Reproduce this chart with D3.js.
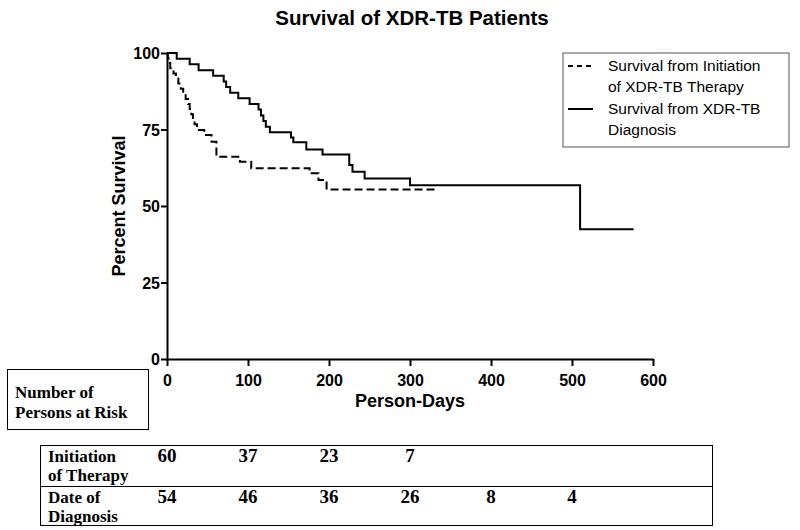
<!DOCTYPE html>
<html><head><meta charset="utf-8">
<script src="https://cdn.jsdelivr.net/npm/d3@7"></script>
<style>body{margin:0;background:#fff}svg{display:block}</style>
</head><body>
<script>
// Kaplan-Meier steps: [day, percent survival]
const therapyDays = [0,1,2,4,8,11,14,17,20,23,26,28,30,32,34,37,46,55,61,90,104,176,187,197,333];
const therapySurv = [100,98.3,96.7,95,93.3,91.7,90,88.3,86.7,85,83.3,81.7,80,78.3,76.7,74.8,73.2,71.0,66.1,64.5,62.3,60.7,58.5,55.4,55.4];
const diagDays = [0,12,28,39,57,70,73,78,88,102,113,116,119,122,127,153,156,172,192,225,229,244,300,510,576];
const diagSurv = [100,98.1,96.3,94.4,92.6,90.7,88.9,87.0,85.2,83.3,81.5,79.6,77.8,75.9,74.1,72.4,70.8,68.5,66.8,63.4,61.2,59.0,56.8,42.4,42.4];
const xTicks = [0,100,200,300,400,500,600];
const yTicks = [0,25,50,75,100];
const legendLabels = [["Survival from Initiation","of XDR-TB Therapy"],["Survival from XDR-TB","Diagnosis"]];
const riskRows = [["Initiation","of Therapy"],["Date of","Diagnosis"]];
const riskTimes = [0,100,200,300,400,500];
const riskTherapy = [60,37,23,7];
const riskDiag = [54,46,36,26,8,4];

const W=800,H=530;
const svg=d3.select("body").append("svg").attr("width",W).attr("height",H);
const x=d3.scaleLinear().domain([0,600]).range([167,653]);
const y=d3.scaleLinear().domain([0,100]).range([359,53]);
const sans="Arial, 'Liberation Sans', sans-serif";
const serif="'Times New Roman', 'Liberation Serif', serif";

svg.append("text").attr("x",412).attr("y",25).attr("text-anchor","middle")
  .attr("font-family",sans).attr("font-weight","bold").attr("font-size",20.5).text("Survival of XDR-TB Patients");

const gx=svg.append("g").attr("transform","translate(0,359)")
  .call(d3.axisBottom(x).tickValues(xTicks).tickSize(7).tickPadding(9).tickSizeOuter(0));
const gy=svg.append("g").attr("transform","translate(167,0)")
  .call(d3.axisLeft(y).tickValues(yTicks).tickSize(6).tickPadding(1).tickSizeOuter(0));
[gx,gy].forEach(g=>{
  g.selectAll("path,line").attr("stroke","#000").attr("stroke-width",2);
  g.selectAll("text").attr("font-family",sans).attr("font-weight","bold").attr("font-size",16).attr("fill","#000");
});
gy.selectAll("text").attr("dy","0.36em");

svg.append("text").attr("transform","translate(125,206) rotate(-90)").attr("text-anchor","middle")
  .attr("font-family",sans).attr("font-weight","bold").attr("font-size",18).text("Percent Survival");
svg.append("text").attr("x",410).attr("y",407).attr("text-anchor","middle")
  .attr("font-family",sans).attr("font-weight","bold").attr("font-size",18).text("Person-Days");

const line=d3.line().x(d=>x(d[0])).y(d=>y(d[1])).curve(d3.curveStepAfter);
svg.append("path").datum(therapyDays.map((d,i)=>[d,therapySurv[i]]))
  .attr("d",line).attr("fill","none").attr("stroke","#000").attr("stroke-width",2).attr("stroke-dasharray","8,4");
svg.append("path").datum(diagDays.map((d,i)=>[d,diagSurv[i]]))
  .attr("d",line).attr("fill","none").attr("stroke","#000").attr("stroke-width",2);

// legend
const lg=svg.append("g");
lg.append("rect").attr("x",563).attr("y",53).attr("width",226).attr("height",94).attr("fill","#fff").attr("stroke","#555").attr("stroke-width",1);
[[0,"5,4"],[1,null]].forEach(([i,dash])=>{
  const yy=i?109:66;
  lg.append("line").attr("x1",568).attr("x2",593).attr("y1",yy).attr("y2",yy).attr("stroke","#000").attr("stroke-width",2).attr("stroke-dasharray",dash);
  legendLabels[i].forEach((t,j)=>lg.append("text").attr("x",608).attr("y",yy+5+j*21)
    .attr("font-family",sans).attr("font-size",15.5).text(t));
});

// at-risk box
svg.append("rect").attr("x",7.5).attr("y",369.5).attr("width",141).attr("height",60).attr("fill","none").attr("stroke","#000").attr("stroke-width",1);
["Number of","Persons at Risk"].forEach((t,j)=>svg.append("text").attr("x",15).attr("y",398+j*20)
  .attr("font-family",serif).attr("font-weight","bold").attr("font-size",17).text(t));

// table
svg.append("rect").attr("x",40.5).attr("y",445.5).attr("width",672).attr("height",80).attr("fill","none").attr("stroke","#000").attr("stroke-width",1);
svg.append("line").attr("x1",40).attr("x2",713).attr("y1",486.5).attr("y2",486.5).attr("stroke","#000").attr("stroke-width",1);
[riskTherapy,riskDiag].forEach((vals,r)=>{
  const by=r?503:462;
  riskRows[r].forEach((t,j)=>svg.append("text").attr("x",48).attr("y",by+j*19)
    .attr("font-family",serif).attr("font-weight","bold").attr("font-size",17).text(t));
  vals.forEach((v,i)=>svg.append("text").attr("x",x(riskTimes[i])).attr("y",by).attr("text-anchor","middle")
    .attr("font-family",serif).attr("font-weight","bold").attr("font-size",19).text(v));
});
</script>
</body></html>
